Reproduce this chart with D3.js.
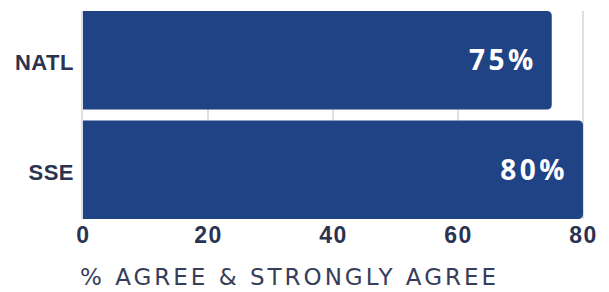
<!DOCTYPE html>
<html>
<head>
<meta charset="utf-8">
<script src="https://cdn.jsdelivr.net/npm/d3@7"></script>
<style>
  html, body { margin: 0; padding: 0; background: #fff; }
  svg { display: block; font-family: "DejaVu Sans", sans-serif; }
</style>
</head>
<body>
<div id="chart"></div>
<script>
// data
var categories = ['NATL', 'SSE'];
var values = [75, 80];
var tickValues = [0, 20, 40, 60, 80];
var axisTitle = '% AGREE & STRONGLY AGREE';

var width = 609, height = 292;
var margin = {top: 11, right: 26, bottom: 74, left: 83};
var barColor = '#1f4385', textColor = '#2a3350', gridColor = '#d3d5dd';

var svg = d3.select('#chart').append('svg')
    .attr('width', width)
    .attr('height', height);

var x = d3.scaleLinear()
    .domain([0, 80])
    .range([margin.left, width - margin.right]);

var y = d3.scaleBand()
    .domain(categories)
    .range([margin.top, height - margin.bottom + 1])
    .paddingInner(0.1)
    .paddingOuter(0);

// grid lines
svg.append('g')
  .selectAll('line')
  .data(tickValues)
  .enter().append('line')
    .attr('x1', function(d) { return x(d) - (d === 0 ? 1 : 0); })
    .attr('x2', function(d) { return x(d) - (d === 0 ? 1 : 0); })
    .attr('y1', margin.top)
    .attr('y2', y.range()[1])
    .attr('stroke', gridColor)
    .attr('stroke-width', 1.5);

// bars w/ rounded right end
function barPath(d) {
  var x0 = x(0), x1 = x(d.v), y0 = y(d.c), h = y.bandwidth(), r = 5;
  return 'M' + x0 + ',' + y0 +
    'H' + (x1 - r) +
    'Q' + x1 + ',' + y0 + ' ' + x1 + ',' + (y0 + r) +
    'V' + (y0 + h - r) +
    'Q' + x1 + ',' + (y0 + h) + ' ' + (x1 - r) + ',' + (y0 + h) +
    'H' + x0 + 'Z';
}

var rows = categories.map(function(c, i) { return {c: c, v: values[i]}; });

svg.append('g')
  .selectAll('path')
  .data(rows)
  .enter().append('path')
    .attr('d', barPath)
    .attr('fill', barColor);

// value labels
svg.append('g')
  .selectAll('text')
  .data(rows)
  .enter().append('text')
    .attr('x', function(d) { return x(d.v) - 15; })
    .attr('y', function(d) { return y(d.c) + y.bandwidth() / 2; })
    .attr('dy', '0.36em')
    .attr('text-anchor', 'end')
    .attr('fill', '#fff')
    .style('font-family', '"Open Sans", sans-serif')
    .style('font-size', '28px')
    .style('font-weight', 700)
    .style('letter-spacing', '3.5px')
    .text(function(d) { return d.v + '%'; });

// y axis labels
var yAxis = d3.axisLeft(y).tickSize(0).tickPadding(9);
svg.append('g')
    .attr('transform', 'translate(' + margin.left + ',0)')
    .call(yAxis)
    .call(function(g) { g.select('.domain').remove(); })
    .selectAll('text')
    .attr('dy', '0.45em')
    .attr('fill', textColor)
    .style('font-size', '22px')
    .style('font-weight', 'bold')
    .style('letter-spacing', '0.5px');

// x axis
var xAxis = d3.axisBottom(x).tickValues(tickValues).tickSize(0).tickPadding(9);
svg.append('g')
    .attr('transform', 'translate(0,' + (height - margin.bottom) + ')')
    .call(xAxis)
    .call(function(g) { g.select('.domain').remove(); })
    .selectAll('text')
    .attr('fill', textColor)
    .style('font-size', '23px')
    .style('font-weight', 'bold')
    .style('letter-spacing', '1.5px');

svg.append('text')
    .attr('x', margin.left - 3)
    .attr('y', 285)
    .attr('fill', '#363e5a')
    .style('font-size', '23px')
    .style('letter-spacing', '3px')
    .text(axisTitle);
</script>
</body>
</html>
